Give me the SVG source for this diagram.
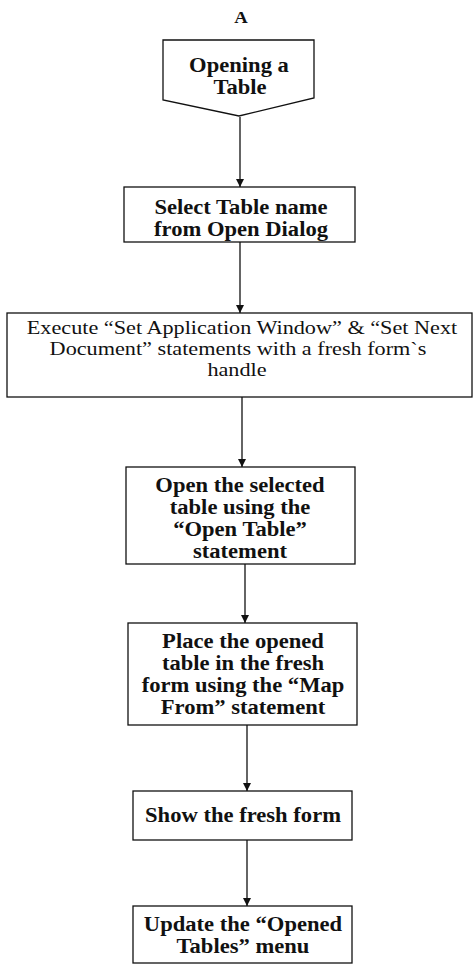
<svg xmlns="http://www.w3.org/2000/svg" width="474" height="966" viewBox="0 0 474 966">
<style>
.box{fill:#fff;stroke:#111;stroke-width:1.3}
.b{font-family:"Liberation Serif","Times New Roman",serif;font-weight:bold;font-size:20px;fill:#111;text-anchor:middle}
.r{font-family:"Liberation Serif","Times New Roman",serif;font-size:19px;fill:#111;text-anchor:middle}
.c{stroke:#111;stroke-width:1.3;fill:none}
</style>
<defs>
<marker id="ah" viewBox="0 0 10 10" refX="10" refY="5" markerWidth="8" markerHeight="8" markerUnits="userSpaceOnUse" orient="auto">
<path d="M0,0 L10,5 L0,10 Z" fill="#111"/>
</marker>
</defs>
<rect width="474" height="966" fill="#fff"/>
<text class="b" style="font-size:17px" transform="translate(241 23) scale(1.1 1)">A</text>
<g id="connectors">
<line class="c" x1="240" y1="117" x2="240" y2="187" marker-end="url(#ah)"/>
<line class="c" x1="240" y1="242" x2="240" y2="313" marker-end="url(#ah)"/>
<line class="c" x1="242" y1="397" x2="242" y2="467" marker-end="url(#ah)"/>
<line class="c" x1="245" y1="564" x2="245" y2="623" marker-end="url(#ah)"/>
<line class="c" x1="247" y1="725" x2="247" y2="791" marker-end="url(#ah)"/>
<line class="c" x1="247" y1="840" x2="247" y2="906" marker-end="url(#ah)"/>
</g>
<g id="n1">
<polygon class="box" points="163,40 314,40 314,98 239,116 163,100"/>
<text class="b" transform="translate(239 72) scale(1.13 1)">Opening a</text>
<text class="b" transform="translate(240 94) scale(1.13 1)">Table</text>
</g>
<g id="n2">
<rect class="box" x="124" y="187" width="231" height="55"/>
<text class="b" transform="translate(241 214) scale(1.13 1)">Select Table name</text>
<text class="b" transform="translate(241 236) scale(1.13 1)">from Open Dialog</text>
</g>
<g id="n3">
<rect class="box" x="7" y="313" width="465" height="84"/>
<text class="r" transform="translate(242 334) scale(1.17 1)">Execute “Set Application Window” &amp; “Set Next</text>
<text class="r" transform="translate(238 355) scale(1.17 1)">Document” statements with a fresh form`s</text>
<text class="r" transform="translate(237 376) scale(1.17 1)">handle</text>
</g>
<g id="n4">
<rect class="box" x="126" y="467" width="229" height="97"/>
<text class="b" transform="translate(240 492) scale(1.13 1)">Open the selected</text>
<text class="b" transform="translate(240 514) scale(1.13 1)">table using the</text>
<text class="b" transform="translate(240 536) scale(1.13 1)">“Open Table”</text>
<text class="b" transform="translate(240 558) scale(1.13 1)">statement</text>
</g>
<g id="n5">
<rect class="box" x="128" y="623" width="229" height="102"/>
<text class="b" transform="translate(243 648) scale(1.13 1)">Place the opened</text>
<text class="b" transform="translate(243 670) scale(1.13 1)">table in the fresh</text>
<text class="b" transform="translate(243 692) scale(1.13 1)">form using the “Map</text>
<text class="b" transform="translate(243 714) scale(1.13 1)">From” statement</text>
</g>
<g id="n6">
<rect class="box" x="133" y="791" width="219" height="49"/>
<text class="b" transform="translate(243 822) scale(1.13 1)">Show the fresh form</text>
</g>
<g id="n7">
<rect class="box" x="133" y="906" width="219" height="57"/>
<text class="b" transform="translate(243 931) scale(1.13 1)">Update the “Opened</text>
<text class="b" transform="translate(243 953) scale(1.13 1)">Tables” menu</text>
</g>
</svg>
